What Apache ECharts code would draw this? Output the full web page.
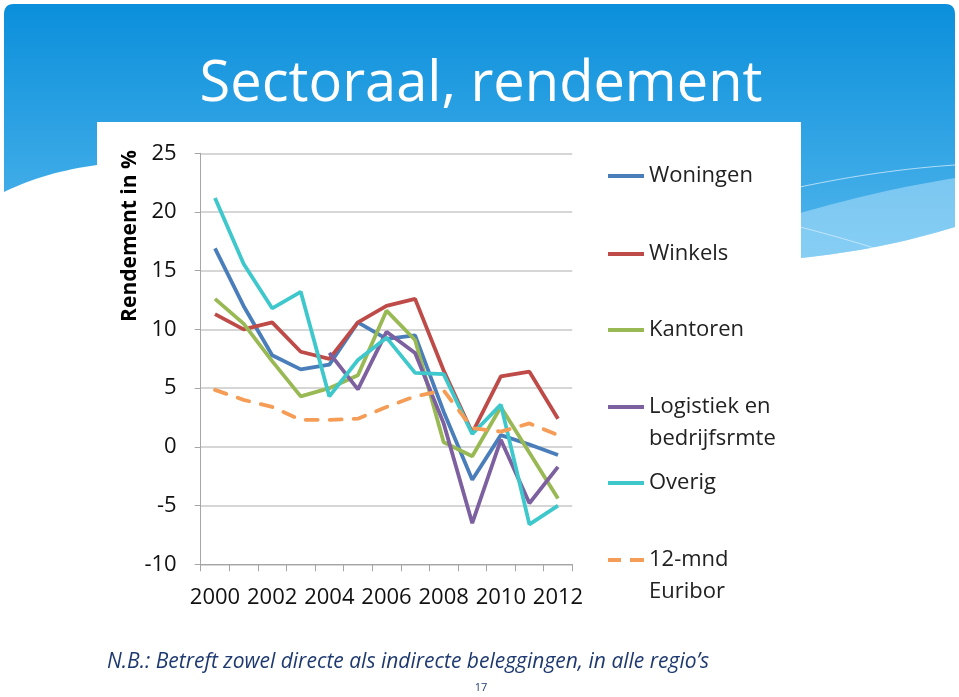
<!DOCTYPE html>
<html>
<head>
<meta charset="utf-8">
<script src="https://cdn.jsdelivr.net/npm/echarts@6/dist/echarts.min.js"></script>
<style>
  html, body { margin: 0; padding: 0; background: #fff; }
  #chart { width: 959px; height: 697px; }
</style>
</head>
<body>
<div id="chart"></div>
<script>
// jaren op de x-as
const years = ['2000', '2001', '2002', '2003', '2004', '2005', '2006', '2007', '2008', '2009', '2010', '2011', '2012']
// rendement per sector (%)
const woningen = [16.9, 12.0, 7.8, 6.6, 7.0, 10.6, 9.2, 9.5, 3.0, -2.8, 1.0, 0.2, -0.7]
const winkels = [11.3, 10.0, 10.6, 8.1, 7.5, 10.6, 12.0, 12.6, 6.5, 1.2, 6.0, 6.4, 2.4]
const kantoren = [12.6, 10.5, 7.3, 4.3, 5.0, 6.1, 11.6, 9.1, 0.4, -0.8, 3.4, -0.5, -4.4]
const logistiek = [null, null, null, null, 8.0, 4.9, 9.8, 8.0, 2.0, -6.5, 0.6, -4.8, -1.7]
const overig = [21.2, 15.6, 11.8, 13.2, 4.3, 7.4, 9.3, 6.3, 6.2, 1.1, 3.6, -6.6, -5.0]
const euribor = [4.85, 4.0, 3.4, 2.3, 2.3, 2.4, 3.4, 4.3, 4.8, 1.6, 1.3, 2.0, 1.0]

const seriesNames = ['Woningen', 'Winkels', 'Kantoren', 'Logistiek en\nbedrijfsrmte', 'Overig', '12-mnd\nEuribor']
const seriesData = [woningen, winkels, kantoren, logistiek, overig, euribor]
const colors = ['#4a7ebb', '#be4b48', '#98b954', '#7d60a0', '#3ec8cc', '#f59d56']
const legendTops = [155, 233, 309, 354, 462, 507]

const font = '"Open Sans", "Noto Sans", sans-serif'
const solidIcon = 'path://M0,0 L36,0 L36,4 L0,4 Z'
const dashIcon = 'path://M0,0 L13,0 L13,4 L0,4 Z M22,0 L36,0 L36,4 L22,4 Z'

// kwadratische curve als punten, voor de achtergrondvormen
function quad(p0, c, p1, n = 16) {
  const pts = []
  for (let k = 0; k <= n; k++) {
    const t = k / n
    pts.push([
      (1 - t) * (1 - t) * p0[0] + 2 * (1 - t) * t * c[0] + t * t * p1[0],
      (1 - t) * (1 - t) * p0[1] + 2 * (1 - t) * t * c[1] + t * t * p1[1]
    ])
  }
  return pts
}

const headerPts = [].concat(
  quad([4, 14], [4, 4], [14, 4], 6),
  quad([945, 4], [955, 4], [955, 14], 6),
  quad([955, 227], [880, 250], [800, 258]),
  [[97, 165]],
  quad([97, 165], [45, 172], [4, 192])
)
const bandPts = [].concat(
  quad([800, 213], [880, 190], [955, 178]),
  quad([955, 227], [880, 250], [800, 258])
)

const chart = echarts.init(document.getElementById('chart'))

const option = {
  animation: false,
  color: colors,
  textStyle: { fontFamily: font },
  graphic: [
    { // blauwe kop van de dia
      type: 'polygon', z: -20,
      shape: { points: headerPts },
      style: {
        fill: new echarts.graphic.LinearGradient(0, 0, 0, 1, [
          { offset: 0, color: '#0b8fdb' },
          { offset: 1, color: '#52b6ec' }
        ])
      }
    },
    {
      type: 'polygon', z: -19,
      shape: { points: bandPts },
      style: { fill: 'rgba(200,235,255,0.45)' }
    },
    {
      type: 'polyline', z: -18,
      shape: { points: quad([800, 187], [880, 170], [955, 165]) },
      style: { stroke: 'rgba(255,255,255,0.6)', lineWidth: 1 }
    },
    {
      type: 'polyline', z: -18,
      shape: { points: quad([800, 227], [850, 240], [880, 250]) },
      style: { stroke: 'rgba(255,255,255,0.5)', lineWidth: 1 }
    },
    { // witte grafiekafbeelding
      type: 'rect', z: -15,
      shape: { x: 97, y: 122, width: 704, height: 495 },
      style: { fill: '#ffffff' }
    },
    {
      type: 'text', z: 10, x: 481, y: 85,
      style: { text: 'Sectoraal, rendement', fill: '#ffffff', font: '56px ' + font, align: 'center', verticalAlign: 'middle' }
    },
    {
      type: 'text', z: 10, x: 130, y: 236, rotation: Math.PI / 2,
      style: { text: 'Rendement in %', fill: '#000000', font: 'bold 21px ' + font, align: 'center', verticalAlign: 'middle' }
    },
    {
      type: 'text', z: 10, x: 107, y: 662,
      style: { text: 'N.B.: Betreft zowel directe als indirecte beleggingen, in alle regio\u2019s', fill: '#1f3a70', font: 'italic 21px ' + font, align: 'left', verticalAlign: 'middle' }
    },
    {
      type: 'text', z: 10, x: 481, y: 688,
      style: { text: '17', fill: '#1f3a70', font: '11px ' + font, align: 'center', verticalAlign: 'middle' }
    }
  ],
  legend: seriesNames.map((name, i) => ({
    data: [name],
    left: 603,
    top: legendTops[i],
    orient: 'vertical',
    icon: i === 5 ? dashIcon : solidIcon,
    itemWidth: 36,
    itemHeight: 4,
    itemGap: 0,
    selectedMode: false,
    textStyle: { fontSize: 22, color: '#222', lineHeight: 32, fontFamily: font },
    formatter: n => n.indexOf('\n') >= 0 ? ' \n' + n : n
  })),
  grid: { left: 200.7, top: 153.3, right: 386.7, bottom: 132.7 },
  xAxis: {
    type: 'category',
    data: years,
    boundaryGap: true,
    axisLine: { onZero: false, lineStyle: { color: '#a6a6a6', width: 1 } },
    axisTick: { show: true, interval: 0, length: 7, lineStyle: { color: '#a6a6a6' } },
    axisLabel: { interval: 1, margin: 22, fontSize: 22, color: '#111' }
  },
  yAxis: {
    type: 'value',
    min: -10,
    max: 25,
    interval: 5,
    axisLine: { show: true, lineStyle: { color: '#a6a6a6', width: 1 } },
    axisTick: { show: true, length: 6, lineStyle: { color: '#a6a6a6' } },
    splitLine: { lineStyle: { color: '#c8c8c8', width: 1.5 } },
    axisLabel: { margin: 24, fontSize: 22, color: '#111' }
  },
  series: seriesNames.map((name, i) => ({
    name: name,
    type: 'line',
    data: seriesData[i],
    symbol: 'none',
    connectNulls: false,
    lineStyle: {
      width: 3.8,
      color: colors[i],
      type: i === 5 ? [12, 12] : 'solid',
      cap: i === 5 ? 'round' : 'butt'
    },
    z: 2 + i
  }))
}

chart.setOption(option)
</script>
</body>
</html>
